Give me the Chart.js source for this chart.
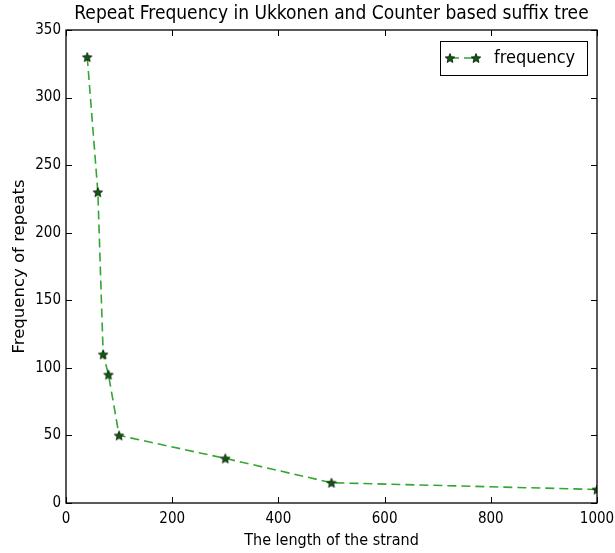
<!DOCTYPE html>
<html>
<head>
  <meta charset="UTF-8">
  <title>Repeat Frequency</title>
  <script src="https://cdn.jsdelivr.net/npm/chart.js@4.4.0/dist/chart.umd.min.js"></script>
  <style>body{margin:0;background:#fff}</style>
</head>
<body>
  <canvas id="chart" width="615" height="553"></canvas>
  <script>
    var strandLength = [40, 60, 70, 80, 100, 300, 500, 1000];
    var frequency = [330, 230, 110, 95, 50, 33, 15, 10];
    var seriesName = 'frequency';
    var chartTitle = 'Repeat Frequency in Ukkonen and Counter based suffix tree';

    var font = '"DejaVu Sans Condensed", "DejaVu Sans"';
    var lineColor = '#34a634';
    var markFill = '#0b5e0b';

    // five pointed star marker, like matplotlib '*'
    function makeStar(r) {
      var c = document.createElement('canvas');
      var s = Math.ceil(r * 2 + 2);
      c.width = s; c.height = s;
      var g = c.getContext('2d');
      g.beginPath();
      for (var i = 0; i < 10; i++) {
        var rad = i % 2 ? r * 0.45 : r;
        var ang = -Math.PI / 2 + i * Math.PI / 5;
        var px = s / 2 + rad * Math.cos(ang), py = s / 2 + 0.5 + rad * Math.sin(ang);
        if (i == 0) g.moveTo(px, py); else g.lineTo(px, py);
      }
      g.closePath();
      g.fillStyle = markFill;
      g.fill();
      g.lineWidth = 0.7;
      g.strokeStyle = '#000';
      g.stroke();
      return c;
    }
    var star = makeStar(5);

    var points = [];
    for (var i = 0; i < strandLength.length; i++) {
      points.push({x: strandLength[i], y: frequency[i]});
    }

    var framePlugin = {
      id: 'frame',
      afterDraw: function(chart) {
        var a = chart.chartArea, ctx = chart.ctx;
        var xs = chart.scales.x, ys = chart.scales.y;
        ctx.save();
        ctx.strokeStyle = '#000';
        ctx.lineWidth = 1;
        ctx.beginPath();
        xs.ticks.forEach(function(t) {
          var p = Math.round(xs.getPixelForValue(t.value)) + 0.5;
          ctx.moveTo(p, a.bottom); ctx.lineTo(p, a.bottom - 6);
          ctx.moveTo(p, a.top); ctx.lineTo(p, a.top + 6);
        });
        ys.ticks.forEach(function(t) {
          var p = Math.round(ys.getPixelForValue(t.value)) + 0.5;
          ctx.moveTo(a.left, p); ctx.lineTo(a.left + 6, p);
          ctx.moveTo(a.right, p); ctx.lineTo(a.right - 6, p);
        });
        ctx.stroke();
        ctx.lineWidth = 1.3;
        ctx.strokeRect(a.left, a.top, a.right - a.left, a.bottom - a.top);

        // title centred over plot
        ctx.fillStyle = '#000';
        ctx.font = '19px ' + font;
        ctx.textAlign = 'center';
        ctx.textBaseline = 'middle';
        ctx.fillText(chartTitle, (a.left + a.right) / 2, 14);

        // legend box, top right inside the axes
        var bx = a.right - 157, by = a.top + 11, bw = 147, bh = 34;
        ctx.fillStyle = '#fff';
        ctx.fillRect(bx, by, bw, bh);
        ctx.lineWidth = 1;
        ctx.strokeStyle = '#000';
        ctx.strokeRect(bx + 0.5, by + 0.5, bw, bh);
        var ly = by + 17;
        ctx.strokeStyle = lineColor;
        ctx.lineWidth = 1.6;
        ctx.setLineDash([9, 5]);
        ctx.beginPath();
        ctx.moveTo(bx + 10, ly); ctx.lineTo(bx + 37, ly);
        ctx.stroke();
        ctx.setLineDash([]);
        ctx.drawImage(star, bx + 10 - star.width / 2, ly - star.height / 2);
        ctx.drawImage(star, bx + 36 - star.width / 2, ly - star.height / 2);
        ctx.fillStyle = '#000';
        ctx.font = '18px ' + font;
        ctx.textAlign = 'left';
        ctx.fillText(seriesName, bx + 54, ly);
        ctx.restore();
      }
    };

    var tickFont = {family: font, size: 15};
    var plain = function(v) { return String(v); };

    new Chart(document.getElementById('chart'), {
      type: 'scatter',
      data: {
        datasets: [{
          label: seriesName,
          data: points,
          showLine: true,
          borderColor: lineColor,
          borderWidth: 1.6,
          borderDash: [9, 5],
          pointStyle: star,
          pointRadius: 6,
          pointHoverRadius: 6
        }]
      },
      options: {
        responsive: false,
        animation: false,
        layout: {padding: {top: 30, right: 18, left: 0, bottom: 0}},
        plugins: {
          legend: {display: false},
          title: {display: false},
          tooltip: {enabled: false}
        },
        scales: {
          x: {
            type: 'linear',
            min: 0,
            max: 1000,
            ticks: {stepSize: 200, color: '#000', padding: 7, font: tickFont, callback: plain},
            grid: {display: false, drawTicks: false},
            border: {display: false},
            title: {display: true, text: 'The length of the strand', color: '#000',
                    font: {family: font, size: 16}, padding: {top: 0, bottom: 3}},
            afterFit: function(scale) {
              scale.height = 50;
              scale.paddingLeft = 0;
              scale.paddingRight = 0;
            }
          },
          y: {
            min: 0,
            max: 350,
            ticks: {stepSize: 50, color: '#000', padding: 5, font: tickFont, callback: plain},
            grid: {display: false, drawTicks: false},
            border: {display: false},
            title: {display: true, text: 'Frequency of repeats', color: '#000',
                    font: {family: 'DejaVu Sans', size: 16.5}, padding: {top: 10, bottom: 0}},
            afterFit: function(scale) { scale.width = 66; }
          }
        }
      },
      plugins: [framePlugin]
    });
  </script>
</body>
</html>
